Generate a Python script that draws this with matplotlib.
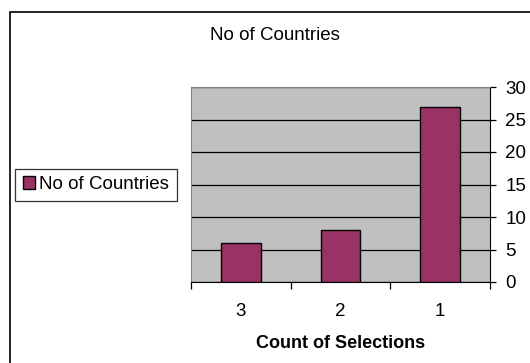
import matplotlib
matplotlib.use("Agg")
import matplotlib.pyplot as plt
from matplotlib.patches import Rectangle
import numpy as np

categories = ["3", "2", "1"]
countries = [6, 8, 27]
series_name = "No of Countries"

plt.rcParams["font.family"] = ["Liberation Sans", "DejaVu Sans"]
FS = 13.5

W, H = 530, 363
fig = plt.figure(figsize=(W / 100, H / 100), dpi=100)

# chart-area frame (runs off the right and bottom edges)
fig.patches.append(Rectangle((10 / W, -0.1), 1.2, 1.1 - 12 / H,
                             transform=fig.transFigure, fill=False,
                             edgecolor="black", linewidth=1.2))

ax = fig.add_axes([191 / W, 1 - 282 / H, 299 / W, 195 / H])
ax.set_facecolor("#c0c0c0")

x = np.arange(len(categories))
ax.bar(x, countries, width=0.4, color="#993366", edgecolor="black",
       linewidth=1.0, zorder=3, label=series_name)

ax.set_xlim(-0.5, len(categories) - 0.5)
ax.set_ylim(0, 30)
ax.set_yticks(range(0, 31, 5))
ax.yaxis.tick_right()
ax.yaxis.grid(True, color="black", linewidth=0.9, zorder=1)
ax.tick_params(axis="y", direction="out", length=4, width=0.9,
               labelsize=FS, pad=7)

ax.set_xticks(x)
ax.set_xticklabels(categories)
ax.set_xticks(np.arange(-0.5, len(categories)), minor=True)
ax.tick_params(axis="x", which="major", length=0, labelsize=FS, pad=15)
ax.tick_params(axis="x", which="minor", direction="out", length=5, width=0.9)
ax.set_xlabel("Count of Selections", fontsize=13, fontweight="bold",
              labelpad=11)

for side in ("top", "left"):
    ax.spines[side].set_color("#808080")
ax.spines["right"].set_color("black")
ax.spines["bottom"].set_color("black")

fig.text(275 / W, 1 - 35 / H, series_name, ha="center", va="center",
         fontsize=FS)

leg = fig.legend(loc="center left", bbox_to_anchor=(15 / W, 1 - 184.5 / H),
                 fontsize=FS, frameon=True, fancybox=False, handlelength=0.65,
                 handleheight=0.65, handletextpad=0.25, borderpad=0.4,
                 borderaxespad=0)
leg.get_frame().set_edgecolor("black")
leg.get_frame().set_linewidth(0.9)

fig.savefig("out.png", dpi=100)
